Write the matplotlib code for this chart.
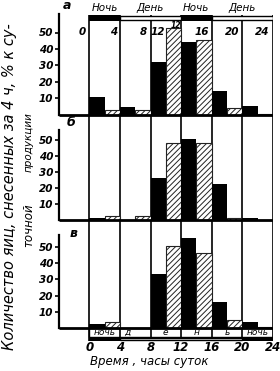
import matplotlib.pyplot as plt

plt.rcParams['font.family'] = 'DejaVu Sans'
plt.rcParams['hatch.linewidth'] = 0.7

# 2-hour bins (start hour); odd bins are hatched
bin_start = [0, 2, 4, 6, 8, 10, 12, 14, 16, 18, 20, 22]
bin_hatched = [False, True, False, True, False, True,
               False, True, False, True, False, True]

# eggs laid per 2 h, % of daily production
eggs_a = [10.9, 2.7, 4.4, 2.7, 32.2, 52.6, 44.0, 45.4, 14.3, 3.8, 5.4, 0.3]
eggs_b = [1.5, 2.7, 0.4, 2.7, 26.5, 48.3, 50.8, 48.3, 22.8, 1.5, 1.5, 0.3]
eggs_c = [2.3, 3.9, 0.3, 0.3, 33.0, 50.5, 55.2, 46.3, 15.8, 4.9, 3.5, 0.5]

hour_lines = [0, 4, 8, 12, 16, 20, 24]
xtick_labels = ['0', '4', '8', '12', '16', '20', '24']
yticks = [10, 20, 30, 40, 50]

# light regime: panel a (top strip) and panel c (bottom strip)
top_night = [(0, 4), (12, 16)]
top_day = [(4, 12), (16, 24)]
top_words = [(2, 'Ночь'), (8, 'День'), (14, 'Ночь'), (20, 'День')]
bot_night = [(0, 4), (20, 24)]
bot_day = [(4, 20)]
bot_words = [(2, 'ночь'), (5, 'д'), (10, 'е'), (14, 'н'), (18, 'ь'), (22, 'ночь')]

W, H = 280, 371
fig = plt.figure(figsize=(W / 100, H / 100), dpi=100)

x0_px, x24_px = 58.7, 272.9  # pixel of hour -4 and hour 24


def panel(zero, s, top, bot, spine_top, vmin, vmax):
    ax = fig.add_axes([x0_px / W, 1 - bot / H, (x24_px - x0_px) / W, (bot - top) / H])
    ax.set_xlim(-4, 24)
    ax.set_ylim((zero - bot) / s, (zero - top) / s)
    ax.patch.set_visible(False)
    for k in ['top', 'right', 'bottom']:
        ax.spines[k].set_visible(False)
    ax.spines['left'].set_linewidth(1.6)
    ax.spines['left'].set_bounds(0, spine_top)
    ax.set_xticks([])
    ax.set_yticks(yticks)
    ax.set_yticklabels([str(t) for t in yticks], fontsize=7.5,
                       fontstyle='italic', fontweight='bold')
    ax.tick_params(axis='y', direction='out', length=3, width=1.2, pad=1)
    ax.vlines(hour_lines, vmin, vmax, color='black', lw=1.2, zorder=2)
    ax.hlines(0, -4, 24, color='black', lw=2, zorder=5)
    return ax


def bars(ax, vals):
    for h, v, hat in zip(bin_start, vals, bin_hatched):
        if hat:
            ax.bar(h, v, width=2, align='edge', facecolor='white',
                   edgecolor='#222222', hatch='//////', lw=0.8, zorder=3)
        else:
            ax.bar(h, v, width=2, align='edge', color='black', lw=0.8, zorder=3)


def strip(ax, night, day, lo, hi):
    for s, e in day:
        ax.bar(s, hi - lo - 0.8, width=e - s, bottom=lo + 0.4, align='edge',
               facecolor='white', edgecolor='black', lw=1, zorder=4)
    for s, e in night:
        ax.bar(s, hi - lo, width=e - s, bottom=lo, align='edge',
               color='black', lw=0, zorder=4)


# panel a
ax_a = panel(114.5, 1.64, 13, 124, 61.5, -10, 60.7)
bars(ax_a, eggs_a)
strip(ax_a, top_night, top_day, 57.0, 60.7)
for x, w in top_words:
    ax_a.text(x, 65, w, ha='center', va='center', fontsize=7.5,
              fontstyle='italic', clip_on=False)
lab_pos = [(-0.4, '0', 'right'), (3.6, '4', 'right'), (7.6, '8', 'right'),
           (9.0, '12', 'center'), (15.6, '16', 'right'), (19.6, '20', 'right'),
           (23.6, '24', 'right')]
for x, t, ha in lab_pos:
    ax_a.text(x, 50.5, t, ha=ha, va='center', fontsize=7.5,
              fontstyle='italic', fontweight='bold', zorder=6)
ax_a.text(11.3, 54.5, '12', ha='center', va='center', fontsize=5.5,
          fontstyle='italic', fontweight='bold', zorder=2)
ax_a.text(-2.9, 66.5, 'а', ha='center', va='center', fontsize=9,
          fontstyle='italic', fontweight='bold', clip_on=False)

# panel b
ax_b = panel(220.4, 1.61, 124, 231, 56.1, -10, 70)
bars(ax_b, eggs_b)
ax_b.text(-2.4, 60.5, 'б', ha='center', va='center', fontsize=9,
          fontstyle='italic', fontweight='bold', clip_on=False)

# panel c
ax_c = panel(328, 1.625, 231, 342, 57.2, -8.0, 70)
bars(ax_c, eggs_c)
ax_c.bar(0, 5.5, width=24, bottom=-5.5, align='edge', facecolor='white',
         edgecolor='black', lw=1, zorder=1)
strip(ax_c, bot_night, bot_day, -8.0, -5.5)
for x, w in bot_words:
    ax_c.text(x, -2.9, w, ha='center', va='center', fontsize=6.5,
              fontstyle='italic', zorder=6)
ax_c.text(-2.1, 58.0, 'в', ha='center', va='center', fontsize=9,
          fontstyle='italic', fontweight='bold', clip_on=False)
for x, t in zip(hour_lines, xtick_labels):
    ax_c.text(x, -11.7, t, ha='center', va='center', fontsize=8.5,
              fontstyle='italic', fontweight='bold', clip_on=False)

fig.text(149 / W, 1 - 362 / H, 'Время , часы суток', ha='center', va='center',
         fontsize=8.5, fontstyle='italic')

# y label, two lines
fig.text(10 / W, 1 - 187 / H, 'Количество яиц, снесенных за 4 ч, % к су-',
         rotation=90, ha='center', va='center', fontsize=10.5, fontstyle='italic')
fig.text(29 / W, 1 - 142 / H, 'продукции', rotation=90, ha='center',
         va='center', fontsize=7.5, fontstyle='italic')
fig.text(29 / W, 1 - 225 / H, 'точной', rotation=90, ha='center',
         va='center', fontsize=8.5, fontstyle='italic')

fig.savefig('out.png', dpi=100)
